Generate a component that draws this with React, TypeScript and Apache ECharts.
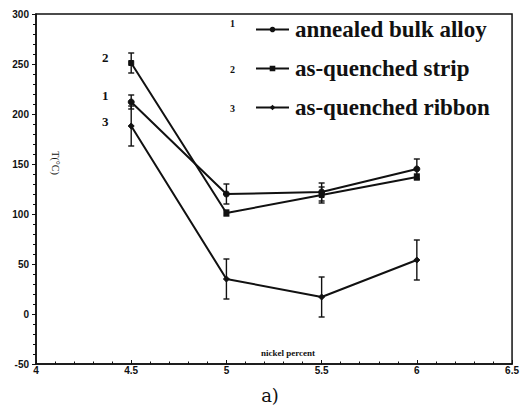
import React, { useEffect, useRef } from "react";
import * as echarts from "echarts";

const nickel = [4.5, 5, 5.5, 6];
const seriesNames = ["annealed bulk alloy", "as-quenched strip", "as-quenched ribbon"];
const annealed = [212, 120, 122, 145];
const annealedErr = [7, 10, 9, 10];
const strip = [251, 101, 119, 137];
const stripErr = [10, 3, 8, 3];
const ribbon = [188, 35, 17, 54];
const ribbonErr = [20, 20, 20, 20];
const xTicks = [4, 4.5, 5, 5.5, 6, 6.5];
const yTicks = [-50, 0, 50, 100, 150, 200, 250, 300];

const INK = "#111";

function errData(vals: number[], errs: number[]) {
  return nickel.map((x, i) => [x, vals[i] - errs[i], vals[i] + errs[i]]);
}

export default function App() {
  const ref = useRef<HTMLDivElement>(null);
  useEffect(() => {
    const chart = echarts.init(ref.current!, null, { renderer: "svg" });
    const lineSeries = (name: string, vals: number[], symbol: string, size: number) => ({
      type: "line",
      name,
      data: nickel.map((x, i) => [x, vals[i]]),
      symbol,
      symbolSize: size,
      lineStyle: { color: INK, width: 2 },
      itemStyle: { color: INK, borderColor: INK },
      z: 3,
    });
    const errSeries = (vals: number[], errs: number[]) => ({
      type: "custom",
      data: errData(vals, errs),
      encode: { x: 0, y: [1, 2] },
      z: 2,
      renderItem: (_p: any, api: any) => {
        const x = api.value(0);
        const top = api.coord([x, api.value(2)]);
        const bot = api.coord([x, api.value(1)]);
        const w = 3;
        const st = { stroke: INK, lineWidth: 1.4 };
        return {
          type: "group",
          children: [
            { type: "line", shape: { x1: top[0], y1: top[1], x2: bot[0], y2: bot[1] }, style: st },
            { type: "line", shape: { x1: top[0] - w, y1: top[1], x2: top[0] + w, y2: top[1] }, style: st },
            { type: "line", shape: { x1: bot[0] - w, y1: bot[1], x2: bot[0] + w, y2: bot[1] }, style: st },
          ],
        };
      },
    });
    const tickFont = { color: INK, fontFamily: "Liberation Sans", fontWeight: "bold", fontSize: 10 };
    chart.setOption({
      animation: false,
      grid: {
        left: 36,
        right: 6,
        top: 14,
        bottom: 46,
        show: true,
        borderColor: INK,
        borderWidth: 1.5,
        backgroundColor: "transparent",
      },
      xAxis: {
        type: "value",
        min: 4,
        max: 6.5,
        interval: 0.5,
        axisLine: { onZero: false, lineStyle: { color: INK, width: 1.5 } },
        axisTick: { inside: true, length: 4, lineStyle: { color: INK } },
        minorTick: { show: true, splitNumber: 5, length: 2.5, lineStyle: { color: INK, width: 1 } },
        axisLabel: { ...tickFont, margin: 1, formatter: (v: number) => (xTicks.includes(v) ? String(v) : "") },
        splitLine: { show: false },
      },
      yAxis: {
        type: "value",
        min: -50,
        max: 300,
        interval: 50,
        axisLine: { show: true, onZero: false, lineStyle: { color: INK, width: 1.5 } },
        axisTick: { show: true, inside: false, length: 4, lineStyle: { color: INK } },
        minorTick: { show: true, splitNumber: 5, length: 3, lineStyle: { color: INK, width: 1 } },
        axisLabel: { ...tickFont, margin: 7, formatter: (v: number) => (yTicks.includes(v) ? String(v) : "") },
        splitLine: { show: false },
      },
      legend: {
        data: seriesNames,
        orient: "vertical",
        left: 250,
        top: 13,
        itemWidth: 33,
        itemHeight: 7,
        itemGap: 16,
        textStyle: { color: INK, fontFamily: "Liberation Serif", fontWeight: "bold", fontSize: 23, padding: [0, 0, 0, 1] },
      },
      graphic: [
        { type: "text", left: 230, top: 18, style: { text: "1", fill: INK, font: "bold 10px 'Liberation Serif'" } },
        { type: "text", left: 230, top: 64, style: { text: "2", fill: INK, font: "bold 10px 'Liberation Serif'" } },
        { type: "text", left: 230, top: 103, style: { text: "3", fill: INK, font: "bold 10px 'Liberation Serif'" } },
        { type: "text", left: 102, top: 51, style: { text: "2", fill: INK, font: "bold 13px 'Liberation Serif'" } },
        { type: "text", left: 102, top: 89, style: { text: "1", fill: INK, font: "bold 13px 'Liberation Serif'" } },
        { type: "text", left: 102, top: 115, style: { text: "3", fill: INK, font: "bold 13px 'Liberation Serif'" } },
        {
          type: "text",
          x: 55,
          y: 163,
          rotation: -Math.PI / 2,
          style: { text: "T(°C)", fill: INK, font: "10px 'Liberation Serif'", align: "center", verticalAlign: "middle" },
        },
        {
          type: "text",
          x: 288,
          y: 353,
          style: { text: "nickel percent", fill: INK, font: "bold 9px 'Liberation Serif'", align: "center", verticalAlign: "middle" },
        },
        {
          type: "text",
          x: 270,
          y: 395,
          style: { text: "a)", fill: INK, font: "18px 'DejaVu Serif'", align: "center", verticalAlign: "middle" },
        },
      ],
      series: [
        lineSeries(seriesNames[0], annealed, "circle", 6),
        lineSeries(seriesNames[1], strip, "rect", 5),
        lineSeries(seriesNames[2], ribbon, "diamond", 6),
        errSeries(annealed, annealedErr),
        errSeries(strip, stripErr),
        errSeries(ribbon, ribbonErr),
      ],
    });
    return () => chart.dispose();
  }, []);
  return <div ref={ref} style={{ position: "absolute", left: 0, top: 0, width: 522, height: 410 }} />;
}
